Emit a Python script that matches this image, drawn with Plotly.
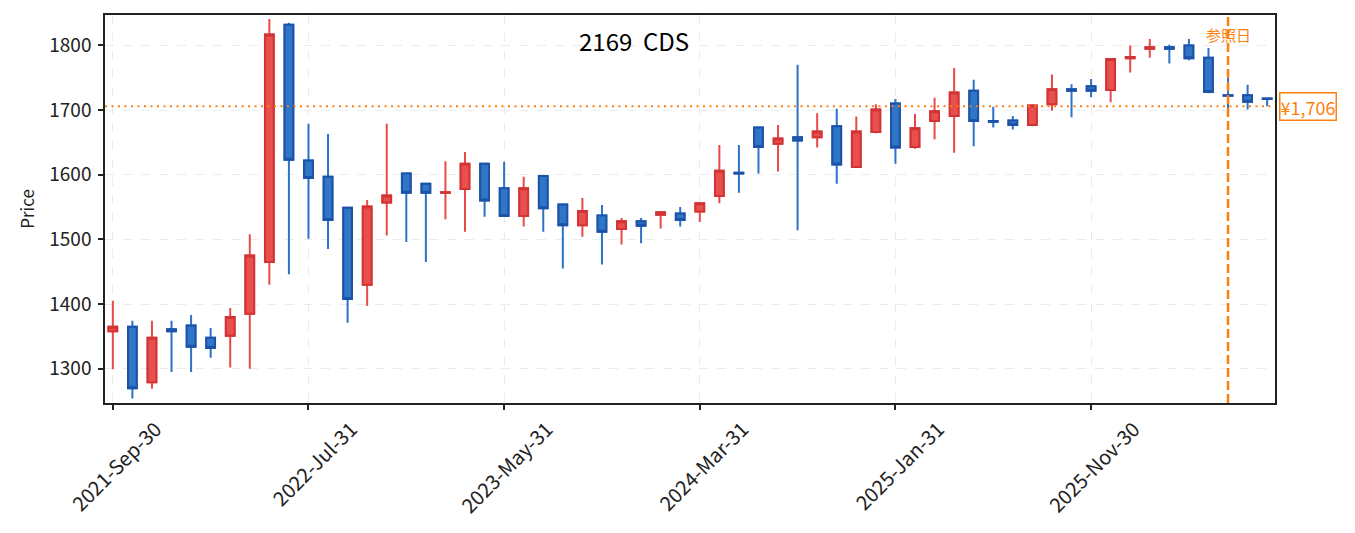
import pandas as pd
import plotly.graph_objects as go

# monthly candles, 2169 CDS
dates = pd.date_range("2021-09-30", periods=60, freq="ME").strftime("%Y-%b-%d").tolist()

open_ = [1358, 1365, 1279, 1361, 1367, 1348, 1351, 1385, 1465, 1832,
         1622, 1597, 1549, 1430, 1557, 1602, 1586, 1572, 1578, 1617,
         1579, 1536, 1598, 1554, 1522, 1537, 1516, 1528, 1538, 1540,
         1543, 1567, 1603, 1673, 1648, 1658, 1658, 1675, 1612, 1666,
         1710, 1643, 1683, 1691, 1730, 1683, 1684, 1677, 1709, 1732,
         1737, 1731, 1780, 1795, 1797, 1800, 1781, 1723, 1723, 1718]
high = [1405, 1374, 1374, 1374, 1383, 1363, 1394, 1508, 1841, 1835,
        1679, 1663, 1550, 1561, 1679, 1603, 1587, 1621, 1635, 1618,
        1620, 1597, 1599, 1555, 1564, 1553, 1533, 1533, 1543, 1550,
        1557, 1646, 1646, 1674, 1677, 1770, 1695, 1702, 1690, 1709,
        1717, 1694, 1719, 1765, 1747, 1705, 1691, 1709, 1755, 1740,
        1748, 1780, 1800, 1810, 1801, 1810, 1796, 1750, 1739, 1718]
low = [1299, 1254, 1269, 1295, 1295, 1317, 1302, 1300, 1430, 1446,
       1501, 1485, 1371, 1397, 1506, 1496, 1465, 1531, 1512, 1535,
       1535, 1520, 1512, 1455, 1504, 1461, 1492, 1494, 1517, 1520,
       1527, 1556, 1572, 1602, 1605, 1514, 1642, 1586, 1611, 1664,
       1617, 1640, 1655, 1634, 1644, 1673, 1670, 1675, 1699, 1689,
       1720, 1712, 1758, 1781, 1772, 1777, 1726, 1701, 1701, 1706]
close = [1365, 1270, 1348, 1358, 1334, 1332, 1380, 1475, 1817, 1623,
         1595, 1530, 1408, 1551, 1568, 1572, 1572, 1573, 1617, 1560,
         1536, 1579, 1548, 1522, 1544, 1512, 1528, 1521, 1542, 1530,
         1556, 1606, 1602, 1643, 1656, 1653, 1667, 1616, 1667, 1701,
         1642, 1672, 1698, 1727, 1683, 1682, 1677, 1707, 1732, 1730,
         1730, 1779, 1782, 1797, 1795, 1780, 1728, 1722, 1713, 1717]

ref_index = 57
ref_price = 1706
tick_step = 10

FONT = "Noto Sans CJK JP"
ORANGE = "#ff7f0e"

x = list(range(len(dates)))
body_top = [max(o, c) for o, c in zip(open_, close)]
body_bottom = [min(o, c) for o, c in zip(open_, close)]

fig = go.Figure()

# wicks (lighter colour)
fig.add_trace(go.Candlestick(
    x=x, open=open_, high=high, low=low, close=close,
    increasing=dict(line=dict(color="#e84a48", width=2), fillcolor="#e84f4d"),
    decreasing=dict(line=dict(color="#2b72c9", width=2), fillcolor="#2f75c8"),
    showlegend=False, hoverinfo="skip",
))
# bodies with darker outline
fig.add_trace(go.Candlestick(
    x=x, open=open_, high=body_top, low=body_bottom, close=close,
    increasing=dict(line=dict(color="#d03434", width=2), fillcolor="#e84f4d"),
    decreasing=dict(line=dict(color="#1d52a6", width=2), fillcolor="#2f75c8"),
    showlegend=False,
))

fig.add_hline(y=ref_price, line=dict(color=ORANGE, width=2, dash="2px,4.5px"))
fig.add_vline(x=ref_index, line=dict(color=ORANGE, width=2.5, dash="9px,4px"))

fig.add_annotation(x=ref_index, y=0.951, xref="x", yref="paper", yanchor="middle",
                   text="参照日", showarrow=False,
                   font=dict(family=FONT, size=15, color=ORANGE))
fig.add_annotation(x=1, y=ref_price, xref="paper", yref="y", xanchor="left",
                   xshift=4, text=f"¥{ref_price:,}", showarrow=False,
                   font=dict(family=FONT, size=18, color=ORANGE),
                   bgcolor="white", bordercolor=ORANGE, borderwidth=1.5, borderpad=0)
fig.add_annotation(x=0.452, y=0.933, xref="paper", yref="paper", yanchor="middle",
                   text="2169\u00a0\u00a0CDS", showarrow=False,
                   font=dict(family=FONT, size=24, color="black"))

tickvals = x[::tick_step]
fig.update_layout(
    width=1355, height=533,
    margin=dict(l=97, r=88, t=7, b=138),
    plot_bgcolor="white", paper_bgcolor="white",
    font=dict(family=FONT, size=18, color="#222"),
    boxgap=0.36,
    xaxis=dict(
        range=[-0.4, 59.4], rangeslider=dict(visible=False), automargin=False,
        tickvals=tickvals, ticktext=[dates[i] for i in tickvals], tickangle=-45,
        tickfont=dict(size=20), ticklabelshift=43,
        ticks="outside", ticklen=5, tickwidth=1.5, tickcolor="#222",
        showline=True, linecolor="#222", linewidth=1.5, mirror=True,
        showgrid=True, gridcolor="#ebebeb", griddash="dash", gridwidth=1,
        zeroline=False,
    ),
    yaxis=dict(
        range=[1247, 1847], automargin=False,
        title=dict(text="Price", font=dict(size=17), standoff=10),
        tickfont=dict(size=19), ticklabelstandoff=3,
        dtick=100, ticks="outside", ticklen=5, tickwidth=1.5, tickcolor="#222",
        showline=True, linecolor="#222", linewidth=1.5, mirror=True,
        showgrid=True, gridcolor="#ebebeb", griddash="dash", gridwidth=1,
        zeroline=False,
    ),
)

fig.write_html("out.html")
